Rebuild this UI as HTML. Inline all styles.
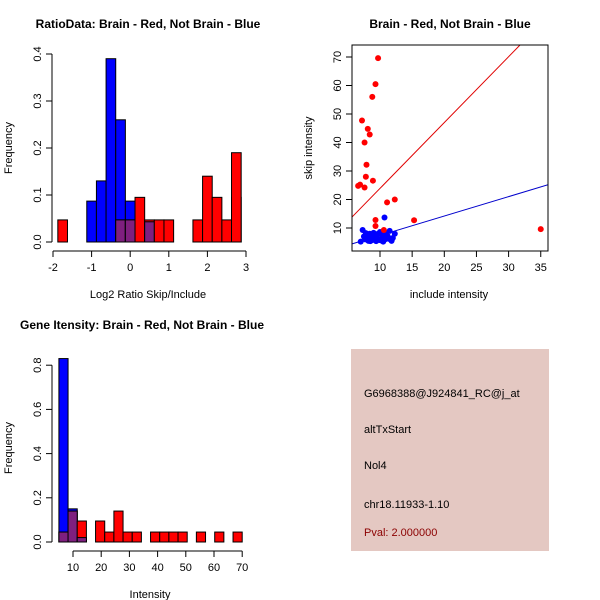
<!DOCTYPE html>
<html><head><meta charset="utf-8"><style>
html,body{margin:0;padding:0;background:#fff;}
svg{display:block;font-family:"Liberation Sans",sans-serif;}
</style></head><body>
<svg id="root" width="600" height="600" viewBox="0 0 600 600">
<rect width="600" height="600" fill="#fff"/>
<g id="p1"></g>
<g id="p2"></g>
<g id="p3"></g>
<g>
<rect x="351" y="349" width="198" height="202" fill="#e4c8c2"/>
<text x="364" y="397" font-size="11" fill="#000">G6968388@J924841_RC@j_at</text>
<text x="364" y="433" font-size="11" fill="#000">altTxStart</text>
<text x="364" y="469" font-size="11" fill="#000">Nol4</text>
<text x="364" y="508" font-size="11" fill="#000">chr18.11933-1.10</text>
<text x="364" y="536" font-size="11" fill="#8b0000">Pval: 2.000000</text>
</g>
</svg>
<script>
// ---- Plot 1 data: ratio histogram (bin left edges, width 0.25)
var ratioBinStarts = [-1.875,-1.625,-1.375,-1.125,-0.875,-0.625,-0.375,-0.125,0.125,0.375,0.625,0.875,1.125,1.375,1.625,1.875,2.125,2.375,2.625];
var ratioBlue = [0,0,0,0.087,0.13,0.39,0.26,0.087,0,0.043,0,0,0,0,0,0,0,0,0];
var ratioRed  = [0.047,0,0,0,0,0,0.047,0.047,0.095,0.047,0.047,0.047,0,0,0.047,0.14,0.095,0.047,0.095];
var ratioRed2 = [0,0,0,0,0,0,0,0,0,0,0,0,0,0,0,0,0,0,0];
var ratioXTicks = [-2,-1,0,1,2,3];
var ratioYTicks = ["0.0","0.1","0.2","0.3","0.4"];
// last red bin
var ratioLastBin = {start:2.625, red:0.19};
// ---- Plot 2 data: scatter
var redX = [6.6,6.9,7.2,7.6,7.6,7.8,7.9,8.1,8.4,8.8,8.9,9.3,9.3,9.3,9.7,11.1,12.3,15.3,35,10.6];
var redY = [24.8,25.2,47.7,40,24.2,28,32.2,44.8,42.8,56,26.6,60.5,12.8,10.7,69.6,19,20,12.7,9.6,9.3];
var blueX = [7.0,7.3,7.5,7.8,8.0,8.2,8.4,8.6,8.8,9.0,9.2,9.4,9.6,9.8,10.0,10.2,10.4,10.6,10.8,11.0,11.2,11.5,11.8,12.0,12.3,7.7,8.5,9.1,9.9,10.5,10.7,11.4,8.1,9.5];
var blueY = [5.2,9.3,7.0,8.2,6.5,5.5,8.0,7.2,5.8,8.3,6.8,5.4,7.9,6.2,8.6,5.6,7.4,9.0,6.0,8.2,7.1,9.0,5.5,6.5,8.0,6.0,5.4,7.5,5.8,5.2,13.7,6.2,7.0,6.4];
var scatterXTicks = [10,15,20,25,30,35];
var scatterYTicks = [10,20,30,40,50,60,70];
var redLine = [0.8, 2.31];   // intercept, slope
var blueLine = [0.6, 0.68];
// ---- Plot 3 data: intensity histogram (bin width 3.25)
var intBinStarts = [5,8.25,11.5,14.75,18,21.25,24.5,27.75,31,34.25,37.5,40.75,44,47.25,50.5,53.75,57,60.25,63.5,66.75];
var intBlue = [0.83,0.15,0.02,0,0,0,0,0,0,0,0,0,0,0,0,0,0,0,0,0];
var intRed  = [0.045,0.14,0.095,0,0.095,0.045,0.14,0.045,0.045,0,0.045,0.045,0.045,0.045,0,0.045,0,0.045,0,0.045];
var intXTicks = [10,20,30,40,50,60,70];
var intYTicks = ["0.0","0.2","0.4","0.6","0.8"];

var NS="http://www.w3.org/2000/svg";
function mk(parent,tag,attrs){var e=document.createElementNS(NS,tag);for(var k in attrs)e.setAttribute(k,attrs[k]);parent.appendChild(e);return e;}
function txt(parent,x,y,s,attrs){var e=mk(parent,'text',Object.assign({x:x,y:y,'font-size':11,'text-anchor':'middle'},attrs||{}));e.textContent=s;return e;}

function histogram(g,o){
  var sx=function(v){return o.x0+(v-o.xmin)*o.xs;};
  var sy=function(v){return o.y0-v*o.ys;};
  var w=o.bw*o.xs;
  for(var i=0;i<o.starts.length;i++){
    var b=o.blue[i],r=o.red[i],x=sx(o.starts[i]);
    if(b>0){var e=mk(g,'rect',{x:x,y:sy(b),width:w,height:b*o.ys,fill:'#0000ff',stroke:'#000','stroke-width':1});
      
      }
    if(r>0){var e2=mk(g,'rect',{x:x,y:sy(r),width:w,height:r*o.ys,fill:'#ff0000',stroke:'#000','stroke-width':1});
      
      }
    if(b>0&&r>0){var m=Math.min(b,r);var e3=mk(g,'rect',{x:x,y:sy(m),width:w,height:m*o.ys,fill:'#7f1f7f',stroke:'#000','stroke-width':1});
      
      }
  }
  // y axis
  var ya=mk(g,'g',{});
  
  
  mk(ya,'line',{x1:o.ax,y1:sy(0),x2:o.ax,y2:sy(o.ymaxTick),stroke:'#000'});
  o.yt.forEach(function(t){var v=parseFloat(t);var y=sy(v);
    mk(ya,'line',{x1:o.ax-6,y1:y,x2:o.ax,y2:y,stroke:'#000'});
    txt(ya,o.ax-11,y,t,{transform:'rotate(-90 '+(o.ax-11)+' '+y+')'});});
  var xa=mk(g,'g',{});
  
  
  mk(xa,'line',{x1:sx(o.xt[0]),y1:o.ay,x2:sx(o.xt[o.xt.length-1]),y2:o.ay,stroke:'#000'});
  o.xt.forEach(function(t){var x=sx(t);mk(xa,'line',{x1:x,y1:o.ay,x2:x,y2:o.ay+6,stroke:'#000'});txt(xa,x,o.ay+20,String(t));});
  var ti=txt(g,o.tx,o.ty,o.title,{'font-weight':'bold','font-size':12});
  
  
  var xl=txt(g,o.xlx,o.xly,o.xlabel);
  
  
  var yl=txt(g,12,o.yly,'Frequency',{transform:'rotate(-90 12 '+o.yly+')'});
  
  
}

// Plot 1
var s1=ratioBinStarts.concat([ratioLastBin.start]);
var b1=ratioBlue.concat([0]);
var r1=ratioRed.concat([ratioLastBin.red]);
histogram(document.getElementById('p1'),{starts:s1,blue:b1,red:r1,bw:0.25,xmin:-2,x0:53,xs:38.6,y0:242,ys:470,
  ax:52,ay:251,xt:ratioXTicks,yt:ratioYTicks,ymaxTick:0.4,title:'RatioData: Brain - Red, Not Brain - Blue',tx:148,ty:28,
  xlabel:'Log2 Ratio Skip/Include',xlx:148,xly:298,yly:148});

// Plot 3
histogram(document.getElementById('p3'),{starts:intBinStarts,blue:intBlue,red:intRed,bw:3.25,xmin:10,x0:73,xs:2.82,y0:542,ys:221,
  ax:52,ay:551,xt:intXTicks,yt:intYTicks,ymaxTick:0.8,title:'Gene Itensity: Brain - Red, Not Brain - Blue',tx:142,ty:329,
  xlabel:'Intensity',xlx:150,xly:598,yly:448});

// Plot 2 scatter
(function(){
  var g=document.getElementById('p2');
  var L=352,R=548,T=45,B=251;
  var sx=function(v){return 380+(v-10)*6.43;};
  var sy=function(v){return 228-(v-10)*2.85;};
  var cp=mk(g,'clipPath',{id:'c2'});mk(cp,'rect',{x:L,y:T,width:R-L,height:B-T});
  var xs0=(L-380)/6.43+10, xs1=(R-380)/6.43+10;
  var rl=mk(g,'line',{x1:sx(xs0),y1:sy(redLine[0]+redLine[1]*xs0),x2:sx(xs1),y2:sy(redLine[0]+redLine[1]*xs1),stroke:'#e00000','stroke-width':1,'clip-path':'url(#c2)'});
  
  
  var bl=mk(g,'line',{x1:sx(xs0),y1:sy(blueLine[0]+blueLine[1]*xs0),x2:sx(xs1),y2:sy(blueLine[0]+blueLine[1]*xs1),stroke:'#0000cc','stroke-width':1,'clip-path':'url(#c2)'});
  
  
  for(var i=0;i<blueX.length;i++){var c=mk(g,'circle',{cx:sx(blueX[i]),cy:sy(blueY[i]),r:3,fill:'#0000ff'});
    
    }
  for(var j=0;j<redX.length;j++){var c2=mk(g,'circle',{cx:sx(redX[j]),cy:sy(redY[j]),r:3,fill:'#ff0000'});
    
    }
  mk(g,'rect',{x:L,y:T,width:R-L,height:B-T,fill:'none',stroke:'#000'});
  var xa=mk(g,'g',{});
  
  
  scatterXTicks.forEach(function(t){var x=sx(t);mk(xa,'line',{x1:x,y1:B,x2:x,y2:B+6,stroke:'#000'});txt(xa,x,B+20,String(t));});
  var ya=mk(g,'g',{});
  
  
  scatterYTicks.forEach(function(t){var y=sy(t);mk(ya,'line',{x1:L-6,y1:y,x2:L,y2:y,stroke:'#000'});txt(ya,L-11,y,String(t),{transform:'rotate(-90 '+(L-11)+' '+y+')'});});
  var ti=txt(g,450,28,'Brain - Red, Not Brain - Blue',{'font-weight':'bold','font-size':12});
  
  
  var xl=txt(g,449,298,'include intensity');
  
  
  var yl=txt(g,312,148,'skip intensity',{transform:'rotate(-90 312 148)'});
  
  
})();
</script>
</body></html>
